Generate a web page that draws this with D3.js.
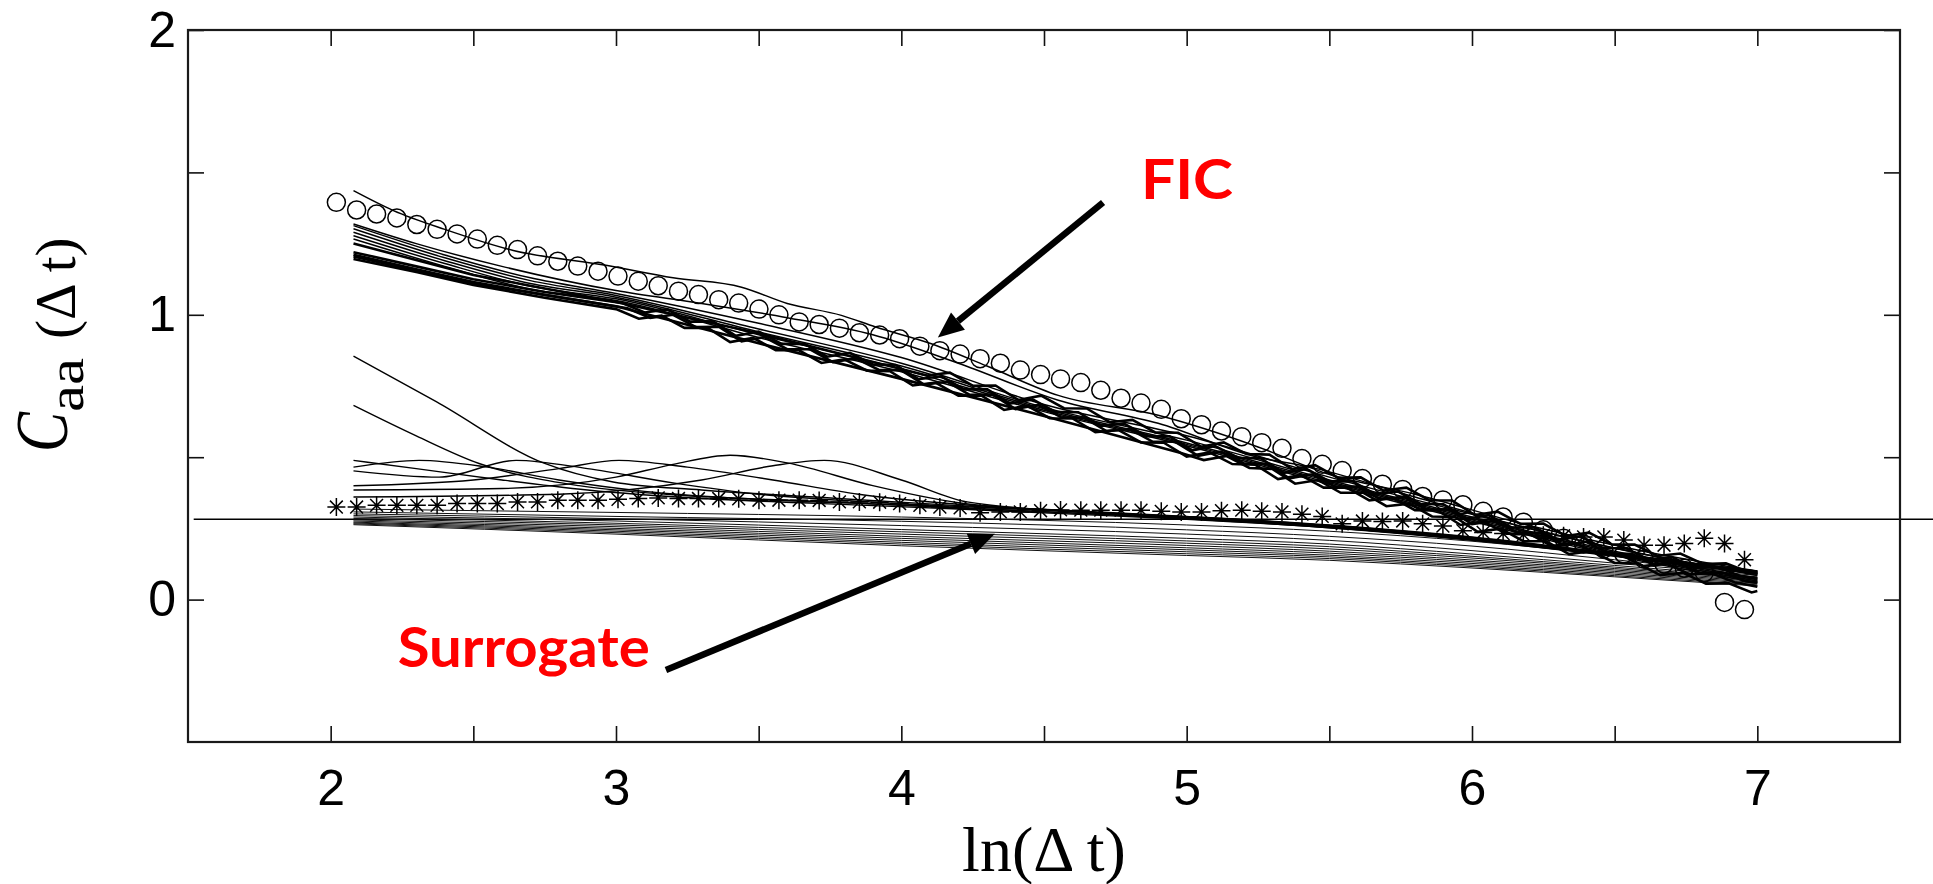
<!DOCTYPE html>
<html>
<head>
<meta charset="utf-8">
<script src="https://cdn.jsdelivr.net/npm/d3@7"></script>
<style>
  html, body { margin: 0; padding: 0; background: #ffffff; }
  svg { display: block; }
</style>
</head>
<body>
<svg id="chart" width="1933" height="884"></svg>
<script>
// ---------------- data ----------------
// ln(Δt) positions of the marker series
const lagLn = [2.020,2.091,2.161,2.232,2.302,2.373,2.443,2.514,2.584,2.655,
  2.725,2.796,2.866,2.937,3.007,3.078,3.148,3.219,3.289,3.360,
  3.430,3.501,3.571,3.642,3.712,3.783,3.853,3.924,3.994,4.065,
  4.135,4.206,4.276,4.347,4.417,4.488,4.558,4.629,4.699,4.770,
  4.840,4.911,4.981,5.052,5.122,5.193,5.263,5.334,5.404,5.475,
  5.545,5.616,5.686,5.757,5.827,5.898,5.968,6.039,6.109,6.180,
  6.250,6.321,6.391,6.462,6.532,6.603,6.673,6.744,6.814,6.885,6.955];

// FIC series (open circles)
const ficMean = [1.395,1.368,1.354,1.340,1.317,1.300,1.284,1.266,1.244,1.229,
  1.207,1.188,1.171,1.153,1.136,1.118,1.102,1.083,1.071,1.053,
  1.041,1.020,1.000,0.975,0.966,0.953,0.937,0.929,0.916,0.890,
  0.874,0.862,0.846,0.830,0.806,0.790,0.775,0.762,0.735,0.707,
  0.690,0.668,0.635,0.614,0.592,0.572,0.551,0.531,0.495,0.475,
  0.453,0.425,0.405,0.387,0.362,0.350,0.333,0.310,0.290,0.272,
  0.245,0.215,0.195,0.178,0.160,0.142,0.125,0.110,0.095,-0.010,-0.035];

// Surrogate series (asterisks)
const surrogateMean = [0.325,0.325,0.331,0.331,0.331,0.331,0.337,0.337,0.337,0.343,
  0.343,0.349,0.349,0.349,0.352,0.355,0.357,0.355,0.355,0.355,
  0.354,0.349,0.349,0.349,0.348,0.343,0.343,0.342,0.337,0.331,
  0.325,0.322,0.305,0.308,0.308,0.312,0.315,0.314,0.314,0.314,
  0.314,0.310,0.308,0.308,0.312,0.314,0.310,0.308,0.300,0.292,
  0.266,0.276,0.274,0.276,0.266,0.258,0.242,0.236,0.232,0.228,
  0.226,0.224,0.220,0.220,0.209,0.191,0.191,0.197,0.215,0.197,0.140];

// horizontal reference level
const refLevel = 0.282;

// FIC realisations, smooth ones: [ln Δt, C]
const ficRunsSmooth = [
  [[2.08,1.436],[2.22,1.366],[2.40,1.300],[2.64,1.226],[2.97,1.173],[3.20,1.130],[3.44,1.097],[3.60,1.040],[3.79,0.998],[3.91,0.957],[4.10,0.900],[4.30,0.820],[4.55,0.717],[4.90,0.647],[5.25,0.536],[5.49,0.443],[5.80,0.370],[6.20,0.260],[6.60,0.170],[7.00,0.100]],
  [[2.08,1.319],[2.30,1.250],[2.60,1.170],[3.00,1.085],[3.30,1.040],[3.60,0.990],[3.90,0.930],[4.20,0.830],[4.55,0.700],[4.90,0.619],[5.25,0.500],[5.43,0.466],[5.80,0.360],[6.20,0.250],[6.60,0.160],[7.00,0.090]],
  [[2.08,1.313],[2.40,1.210],[2.70,1.130],[3.00,1.075],[3.50,0.970],[4.00,0.850],[4.50,0.685],[5.00,0.575],[5.50,0.430],[6.00,0.300],[6.50,0.180],[7.00,0.085]],
  [[2.08,1.302],[2.40,1.200],[2.70,1.120],[3.00,1.068],[3.50,0.950],[4.00,0.830],[4.50,0.675],[5.00,0.560],[5.50,0.420],[6.00,0.290],[6.50,0.170],[7.00,0.075]],
  [[2.08,1.290],[2.40,1.190],[2.70,1.110],[3.00,1.062],[3.50,0.940],[4.00,0.820],[4.50,0.670],[5.00,0.550],[5.50,0.415],[6.00,0.285],[6.50,0.165],[7.00,0.070]],
  [[2.08,1.278],[2.40,1.180],[2.70,1.100],[3.00,1.056],[3.50,0.930],[4.00,0.810],[4.50,0.665],[5.00,0.545],[5.50,0.410],[6.00,0.280],[6.50,0.160],[7.00,0.065]],
  [[2.08,1.266],[2.40,1.170],[2.70,1.090],[3.00,1.050],[3.50,0.920],[4.00,0.800],[4.50,0.660],[5.00,0.540],[5.50,0.405],[6.00,0.275],[6.50,0.155],[7.00,0.060]]
];

// FIC realisations with strong fluctuations
const ficRunsNoisy = [
  [[2.08,1.250],[2.50,1.140],[3.00,1.045],[3.50,0.935],[3.80,0.860],[4.09,0.787],[4.17,0.797],[4.25,0.751],[4.33,0.752],[4.41,0.701],[4.49,0.716],[4.57,0.672],[4.65,0.671],[4.73,0.623],[4.81,0.631],[4.89,0.587],[4.97,0.586],[5.05,0.537],[5.13,0.552],[5.21,0.511],[5.29,0.509],[5.37,0.458],[5.45,0.472],[5.53,0.428],[5.61,0.429],[5.69,0.383],[5.77,0.393],[5.85,0.349],[5.93,0.348],[6.01,0.297],[6.09,0.309],[6.17,0.266],[6.25,0.267],[6.33,0.223],[6.41,0.235],[6.49,0.194],[6.57,0.193],[6.65,0.153],[6.73,0.162],[6.81,0.125],[6.89,0.127],[6.97,0.096],[7.00,0.092]],
  [[2.08,1.220],[2.30,1.170],[2.50,1.125],[2.75,1.080],[3.02,1.042],[3.10,1.008],[3.18,1.019],[3.26,0.976],[3.34,0.977],[3.42,0.926],[3.50,0.941],[3.58,0.898],[3.66,0.898],[3.74,0.853],[3.82,0.866],[3.90,0.826],[3.98,0.824],[4.06,0.774],[4.14,0.784],[4.22,0.738],[4.30,0.739],[4.38,0.688],[4.46,0.703],[4.54,0.659],[4.62,0.658],[4.70,0.610],[4.78,0.618],[4.86,0.574],[4.94,0.573],[5.02,0.524],[5.10,0.539],[5.18,0.498],[5.26,0.496],[5.34,0.445],[5.42,0.459],[5.50,0.415],[5.58,0.416],[5.66,0.370],[5.74,0.380],[5.82,0.336],[5.90,0.335],[5.98,0.284],[6.06,0.296],[6.14,0.253],[6.22,0.254],[6.30,0.210],[6.38,0.222],[6.46,0.181],[6.54,0.180],[6.62,0.140],[6.70,0.149],[6.78,0.112],[6.86,0.114],[6.94,0.083],[7.00,0.075]],
  [[2.08,1.211],[2.30,1.160],[2.50,1.115],[2.75,1.070],[3.04,1.023],[3.12,0.989],[3.20,1.000],[3.28,0.957],[3.36,0.958],[3.44,0.907],[3.52,0.922],[3.60,0.879],[3.68,0.879],[3.76,0.834],[3.84,0.847],[3.92,0.807],[4.00,0.805],[4.08,0.755],[4.16,0.765],[4.24,0.719],[4.32,0.720],[4.40,0.669],[4.48,0.684],[4.56,0.640],[4.64,0.639],[4.72,0.591],[4.80,0.599],[4.88,0.555],[4.96,0.554],[5.04,0.505],[5.12,0.520],[5.20,0.479],[5.28,0.477],[5.36,0.426],[5.44,0.440],[5.52,0.396],[5.60,0.397],[5.68,0.351],[5.76,0.361],[5.84,0.317],[5.92,0.316],[6.00,0.265],[6.08,0.277],[6.16,0.234],[6.24,0.235],[6.32,0.191],[6.40,0.203],[6.48,0.162],[6.56,0.161],[6.64,0.121],[6.72,0.130],[6.80,0.093],[6.88,0.095],[6.96,0.064],[7.00,0.060]],
  [[2.08,1.196],[2.30,1.150],[2.50,1.105],[2.75,1.060],[3.00,1.020],[3.08,0.986],[3.16,0.997],[3.24,0.954],[3.32,0.955],[3.40,0.904],[3.48,0.919],[3.56,0.876],[3.64,0.876],[3.72,0.831],[3.80,0.844],[3.88,0.804],[3.96,0.802],[4.04,0.752],[4.12,0.762],[4.20,0.716],[4.28,0.717],[4.36,0.666],[4.44,0.681],[4.52,0.637],[4.60,0.636],[4.68,0.588],[4.76,0.596],[4.84,0.552],[4.92,0.551],[5.00,0.502],[5.08,0.517],[5.16,0.476],[5.24,0.474],[5.32,0.423],[5.40,0.437],[5.48,0.393],[5.56,0.394],[5.64,0.348],[5.72,0.358],[5.80,0.314],[5.88,0.313],[5.96,0.262],[6.04,0.274],[6.12,0.231],[6.20,0.232],[6.28,0.188],[6.36,0.200],[6.44,0.159],[6.52,0.158],[6.60,0.118],[6.68,0.127],[6.76,0.090],[6.84,0.092],[6.92,0.061],[7.00,0.045]],
  [[2.08,1.205],[2.50,1.110],[3.00,1.030],[3.50,0.900],[4.00,0.775],[4.50,0.645],[4.98,0.515],[5.06,0.490],[5.14,0.504],[5.22,0.462],[5.30,0.459],[5.38,0.407],[5.46,0.420],[5.54,0.375],[5.62,0.375],[5.70,0.328],[5.78,0.337],[5.86,0.292],[5.94,0.290],[6.02,0.238],[6.10,0.249],[6.18,0.205],[6.26,0.205],[6.34,0.160],[6.42,0.171],[6.50,0.129],[6.58,0.127],[6.66,0.086],[6.74,0.094],[6.82,0.056],[6.90,0.057],[6.98,0.025],[7.00,0.030]]
];

// Surrogate realisations: steep and humped ones
const surrogateRunsWavy = [
  [[2.08,0.855],[2.37,0.695],[2.75,0.478],[2.99,0.413],[3.30,0.385],[3.70,0.360],[4.20,0.330],[4.70,0.305],[5.20,0.280],[5.70,0.245],[6.20,0.195],[6.60,0.150],[7.00,0.095]],
  [[2.08,0.682],[2.30,0.575],[2.52,0.478],[2.87,0.400],[3.20,0.368],[3.70,0.345],[4.20,0.322],[4.70,0.300],[5.20,0.272],[5.70,0.238],[6.20,0.190],[6.60,0.145],[7.00,0.090]],
  [[2.08,0.489],[2.30,0.460],[2.60,0.420],[2.90,0.385],[3.30,0.355],[3.70,0.338],[4.20,0.318],[4.60,0.300],[5.00,0.282],[5.50,0.252],[6.00,0.208],[6.50,0.152],[7.00,0.090]],
  [[2.08,0.465],[2.31,0.489],[2.55,0.465],[2.80,0.420],[3.10,0.380],[3.50,0.352],[4.00,0.332],[4.50,0.308],[5.00,0.285],[5.50,0.256],[6.00,0.212],[6.50,0.156],[7.00,0.095]],
  [[2.08,0.452],[2.38,0.430],[2.65,0.489],[2.90,0.460],[3.20,0.410],[3.50,0.370],[3.90,0.342],[4.40,0.318],[5.00,0.290],[5.50,0.260],[6.00,0.218],[6.50,0.160],[7.00,0.100]],
  [[2.08,0.400],[2.50,0.420],[2.80,0.460],[3.01,0.489],[3.25,0.465],[3.55,0.420],[3.85,0.370],[4.20,0.335],[4.60,0.312],[5.00,0.292],[5.50,0.262],[6.00,0.220],[6.50,0.162],[7.00,0.100]],
  [[2.08,0.385],[2.60,0.390],[3.00,0.430],[3.20,0.475],[3.40,0.507],[3.60,0.480],[3.90,0.400],[4.20,0.340],[4.60,0.310],[5.00,0.288],[5.50,0.258],[6.00,0.214],[6.50,0.158],[7.00,0.098]],
  [[2.08,0.360],[2.80,0.370],[3.30,0.420],[3.55,0.470],[3.73,0.489],[4.00,0.420],[4.23,0.343],[4.60,0.310],[5.00,0.286],[5.50,0.254],[6.00,0.210],[6.50,0.154],[7.00,0.093]]
];

// Surrogate realisations: the near-linear bundle
const surrogateRunsFlat = [
  [[2.08,0.318],[3.00,0.306],[4.00,0.290],[5.00,0.262],[5.50,0.240],[6.00,0.205],[6.50,0.155],[7.00,0.100]],
  [[2.08,0.308],[3.00,0.292],[4.00,0.275],[5.00,0.245],[5.50,0.222],[6.00,0.188],[6.50,0.140],[7.00,0.090]],
  [[2.08,0.301],[3.00,0.284],[4.00,0.260],[5.00,0.230],[5.50,0.208],[6.00,0.172],[6.50,0.128],[7.00,0.085]],
  [[2.08,0.295],[3.00,0.276],[4.00,0.246],[5.00,0.215],[5.50,0.195],[6.00,0.160],[6.50,0.120],[7.00,0.080]],
  [[2.08,0.290],[3.00,0.268],[4.00,0.238],[5.00,0.206],[5.50,0.186],[6.00,0.152],[6.50,0.114],[7.00,0.075]],
  [[2.08,0.285],[3.00,0.262],[4.00,0.230],[5.00,0.198],[5.50,0.178],[6.00,0.146],[6.50,0.109],[7.00,0.072]],
  [[2.08,0.280],[3.00,0.256],[4.00,0.222],[5.00,0.190],[5.50,0.170],[6.00,0.139],[6.50,0.104],[7.00,0.068]],
  [[2.08,0.276],[3.00,0.250],[4.00,0.215],[5.00,0.182],[5.50,0.163],[6.00,0.133],[6.50,0.099],[7.00,0.064]],
  [[2.08,0.272],[3.00,0.245],[4.00,0.208],[5.00,0.175],[5.50,0.156],[6.00,0.127],[6.50,0.094],[7.00,0.060]],
  [[2.08,0.269],[3.00,0.240],[4.00,0.201],[5.00,0.168],[5.50,0.150],[6.00,0.121],[6.50,0.089],[7.00,0.056]],
  [[2.08,0.266],[3.00,0.235],[4.00,0.195],[5.00,0.161],[5.50,0.144],[6.00,0.116],[6.50,0.084],[7.00,0.052]],
  [[2.08,0.263],[3.00,0.230],[4.00,0.189],[5.00,0.155],[5.50,0.138],[6.00,0.111],[6.50,0.080],[7.00,0.048]]
];

// axis ticks
const xTicks = [2, 2.5, 3, 3.5, 4, 4.5, 5, 5.5, 6, 6.5, 7];
const yTicks = [0, 0.5, 1, 1.5, 2];
const xLabelled = [2, 3, 4, 5, 6, 7];
const yLabelled = [0, 1, 2];

// annotation arrows: label anchor, tail and head in data coordinates
const arrows = [
  { label: "FIC",       text: [4.84, 1.408],  width: 92,  tail: [4.707, 1.394],  head: [4.128, 0.920] },
  { label: "Surrogate", text: [2.235, -0.237], width: 252, tail: [3.175, -0.247], head: [4.328, 0.231] }
];

// ---------------- layout ----------------
const svg = d3.select("#chart");
const W = 1933, H = 884;
const plot = { left: 188, right: 1900, top: 30, bottom: 742 };

const x = d3.scaleLinear().domain([1.5, 7.5]).range([plot.left, plot.right]);
const y = d3.scaleLinear().domain([-0.5, 2]).range([plot.bottom, plot.top]);

svg.append("rect").attr("width", W).attr("height", H).attr("fill", "#ffffff");

svg.append("defs").append("clipPath").attr("id", "plotClip")
  .append("rect")
  .attr("x", plot.left).attr("y", plot.top)
  .attr("width", plot.right - plot.left).attr("height", plot.bottom - plot.top);

// reference level, running past the right frame
svg.append("line")
  .attr("x1", x(1.52)).attr("x2", W)
  .attr("y1", y(refLevel)).attr("y2", y(refLevel))
  .attr("stroke", "#000").attr("stroke-width", 1.6);

const data = svg.append("g").attr("clip-path", "url(#plotClip)");

const smoothLine = d3.line().x(d => x(d[0])).y(d => y(d[1])).curve(d3.curveMonotoneX);
const rawLine = d3.line().x(d => x(d[0])).y(d => y(d[1]));

data.append("g").selectAll("path").data(surrogateRunsFlat).join("path")
  .attr("d", smoothLine)
  .attr("fill", "none").attr("stroke", "#111").attr("stroke-width", 1.0);

data.append("g").selectAll("path").data(surrogateRunsWavy).join("path")
  .attr("d", smoothLine)
  .attr("fill", "none").attr("stroke", "#000").attr("stroke-width", 1.4);

data.append("g").selectAll("path").data(ficRunsSmooth).join("path")
  .attr("d", smoothLine)
  .attr("fill", "none").attr("stroke", "#000").attr("stroke-width", 1.5);

data.append("g").selectAll("path").data(ficRunsNoisy).join("path")
  .attr("d", rawLine)
  .attr("fill", "none").attr("stroke", "#000").attr("stroke-width", 2.6)
  .attr("stroke-linejoin", "miter");

// open circles
data.append("g").selectAll("circle").data(lagLn.map((v, i) => [v, ficMean[i]])).join("circle")
  .attr("cx", d => x(d[0])).attr("cy", d => y(d[1])).attr("r", 9)
  .attr("fill", "none").attr("stroke", "#000").attr("stroke-width", 1.5);

// asterisks
const star = "M-9,0L9,0M0,-9L0,9M-6.4,-6.4L6.4,6.4M-6.4,6.4L6.4,-6.4";
data.append("g").selectAll("path").data(lagLn.map((v, i) => [v, surrogateMean[i]])).join("path")
  .attr("transform", d => `translate(${x(d[0])},${y(d[1])})`)
  .attr("d", star)
  .attr("fill", "none").attr("stroke", "#000").attr("stroke-width", 1.5);

// ---------------- axes ----------------
const tickFont = "'Liberation Sans', Arial, Helvetica, sans-serif";

function styleAxis(g) {
  g.select(".domain").remove();
  g.selectAll(".tick line").attr("stroke", "#111").attr("stroke-width", 1.6);
  g.selectAll(".tick text").attr("font-family", tickFont).attr("font-size", 50).attr("fill", "#000");
}

svg.append("g").attr("transform", `translate(0,${plot.bottom})`)
  .call(d3.axisBottom(x).tickValues(xTicks).tickSizeInner(-16).tickSizeOuter(0).tickPadding(27)
    .tickFormat(d => xLabelled.includes(d) ? d3.format("d")(d) : ""))
  .call(styleAxis);

svg.append("g").attr("transform", `translate(0,${plot.top})`)
  .call(d3.axisTop(x).tickValues(xTicks).tickSizeInner(-16).tickSizeOuter(0).tickFormat(""))
  .call(styleAxis);

svg.append("g").attr("transform", `translate(${plot.left},0)`)
  .call(d3.axisLeft(y).tickValues(yTicks).tickSizeInner(-16).tickSizeOuter(0).tickPadding(12)
    .tickFormat(d => yLabelled.includes(d) ? d3.format("d")(d) : ""))
  .call(styleAxis);

svg.append("g").attr("transform", `translate(${plot.right},0)`)
  .call(d3.axisRight(y).tickValues(yTicks).tickSizeInner(-16).tickSizeOuter(0).tickFormat(""))
  .call(styleAxis);

// frame
svg.append("rect")
  .attr("x", plot.left).attr("y", plot.top)
  .attr("width", plot.right - plot.left).attr("height", plot.bottom - plot.top)
  .attr("fill", "none").attr("stroke", "#1a1a1a").attr("stroke-width", 2.2);

// ---------------- axis titles ----------------
const serif = "'Liberation Serif', 'Times New Roman', Times, serif";

svg.append("text")
  .attr("x", (plot.left + plot.right) / 2).attr("y", 871)
  .attr("text-anchor", "middle")
  .attr("font-family", serif).attr("font-size", 64).attr("fill", "#000")
  .text("ln(Δ t)");

const yTitle = svg.append("g").attr("fill", "#000").attr("font-family", serif);
yTitle.append("text")
  .attr("transform", "translate(67,452) rotate(-90)")
  .attr("font-size", 74).attr("font-style", "italic")
  .attr("textLength", 40).attr("lengthAdjust", "spacingAndGlyphs")
  .text("C");
yTitle.append("text")
  .attr("transform", "translate(83,412) rotate(-90)")
  .attr("font-size", 50)
  .attr("textLength", 54).attr("lengthAdjust", "spacingAndGlyphs")
  .text("aa");
yTitle.append("text")
  .attr("transform", "translate(75,339) rotate(-90)")
  .attr("font-size", 57)
  .text("(Δ t)");

// ---------------- annotations ----------------
const annFont = "'Comic Sans MS', 'Lato', 'Noto Sans', sans-serif";
const ann = svg.append("g");

arrows.forEach(a => {
  const x1 = x(a.tail[0]), y1 = y(a.tail[1]);
  const x2 = x(a.head[0]), y2 = y(a.head[1]);
  const ang = Math.atan2(y2 - y1, x2 - x1);
  const headLen = 26, headHalf = 11;
  const bx = x2 - headLen * Math.cos(ang), by = y2 - headLen * Math.sin(ang);
  ann.append("line")
    .attr("x1", x1).attr("y1", y1).attr("x2", bx).attr("y2", by)
    .attr("stroke", "#000").attr("stroke-width", 6.5);
  const px = -Math.sin(ang) * headHalf, py = Math.cos(ang) * headHalf;
  ann.append("path")
    .attr("d", `M${x2},${y2}L${bx + px},${by + py}L${bx - px},${by - py}Z`)
    .attr("fill", "#000");
  ann.append("text")
    .attr("x", x(a.text[0])).attr("y", y(a.text[1]))
    .attr("font-family", annFont).attr("font-weight", 700)
    .attr("font-size", 56).attr("fill", "#ff0000")
    .attr("textLength", a.width).attr("lengthAdjust", "spacingAndGlyphs")
    .text(a.label);
});
</script>
</body>
</html>
